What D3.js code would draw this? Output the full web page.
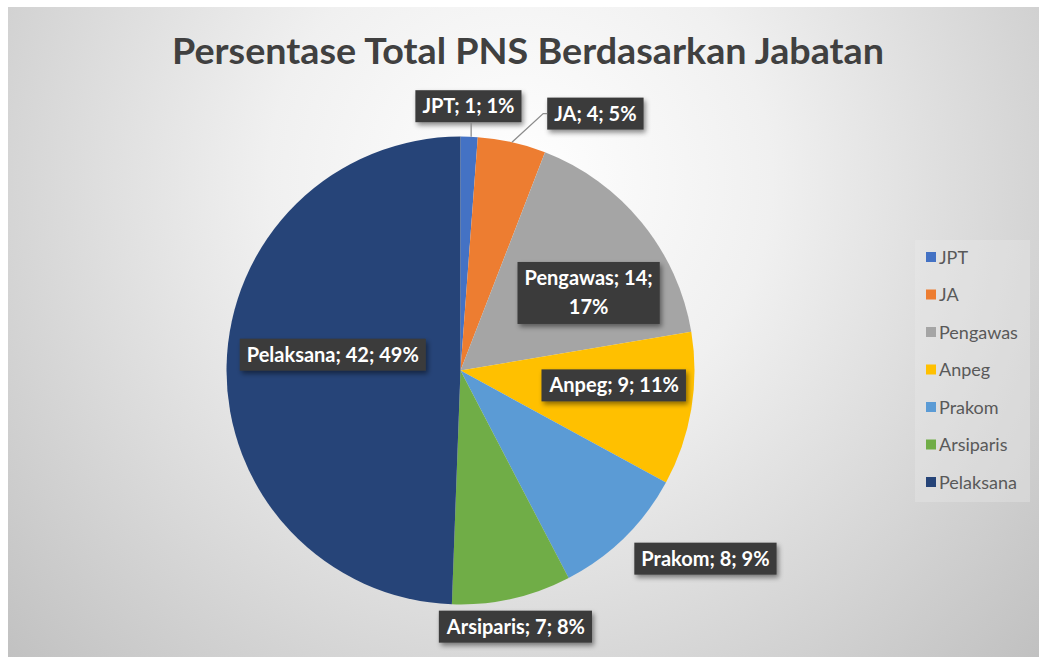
<!DOCTYPE html>
<html>
<head>
<meta charset="utf-8">
<script src="https://cdn.jsdelivr.net/npm/d3@7"></script>
<style>
  html, body { margin: 0; padding: 0; background: #fff; }
  svg { display: block; }
  text { font-family: Lato, "Open Sans", sans-serif; }
</style>
</head>
<body>
<div id="chart"></div>
<script>
"use strict";

// data
var categories = ["JPT", "JA", "Pengawas", "Anpeg", "Prakom", "Arsiparis", "Pelaksana"];
var counts     = [1, 4, 14, 9, 8, 7, 42];
var percents   = ["1%", "5%", "17%", "11%", "9%", "8%", "49%"];
var colors     = ["#4472C4", "#ED7D31", "#A5A5A5", "#FFC000", "#5B9BD5", "#70AD47", "#264478"];

// label placement: radius factor and angle nudge (deg) around the slice middle
var labelR     = [1.13, 1.24, 0.64, 0.66, 1.32, 1.12, 0.55];
var labelNudge = [-0.4, 15, 8, -4, -8, 0.5, 6];
var leader     = [true, true, false, false, false, false, false];

var W = 1039, H = 657,
    cx = 460.5, cy = 370.5, r = 234;

var svg = d3.select("#chart").append("svg")
    .attr("width", W)
    .attr("height", H);

var defs = svg.append("defs");
var bg = defs.append("radialGradient")
    .attr("id", "bg")
    .attr("gradientUnits", "userSpaceOnUse")
    .attr("cx", 520).attr("cy", 180).attr("r", 720);
bg.append("stop").attr("offset", "0").attr("stop-color", "#ffffff");
bg.append("stop").attr("offset", "0.35").attr("stop-color", "#f0f0f0");
bg.append("stop").attr("offset", "1").attr("stop-color", "#bfbfbf");

var sh = defs.append("filter").attr("id", "shadow")
    .attr("x", "-20%").attr("y", "-30%").attr("width", "140%").attr("height", "170%");
sh.append("feDropShadow")
    .attr("dx", 2).attr("dy", 3).attr("stdDeviation", 2.5)
    .attr("flood-color", "#000").attr("flood-opacity", 0.45);

svg.append("rect")
    .attr("x", 8).attr("y", 7)
    .attr("width", W - 8).attr("height", H - 7)
    .attr("fill", "url(#bg)");

svg.append("text")
    .attr("x", 528).attr("y", 64)
    .attr("text-anchor", "middle")
    .attr("font-size", 36)
    .attr("font-weight", 700)
    .attr("fill", "#404040")
    .attr("textLength", 712)
    .attr("lengthAdjust", "spacingAndGlyphs")
    .text("Persentase Total PNS Berdasarkan Jabatan");

var data = categories.map(function(c, i) {
  return { name: c, value: counts[i], pct: percents[i], color: colors[i], i: i };
});

var pie = d3.pie().sort(null).value(function(d) { return d.value; });
var arcs = pie(data);
var arc = d3.arc().innerRadius(0).outerRadius(r);

var g = svg.append("g").attr("transform", "translate(" + cx + "," + cy + ")");

g.selectAll("path.slice")
    .data(arcs)
  .enter().append("path")
    .attr("class", "slice")
    .attr("d", arc)
    .attr("fill", function(d) { return d.data.color; });

function polar(rad, ang) {
  return [rad * Math.sin(ang), -rad * Math.cos(ang)];
}

var labels = g.selectAll("g.lab")
    .data(arcs)
  .enter().append("g")
    .attr("class", "lab")
    .each(function(d) {
      var i = d.data.i;
      var mid = (d.startAngle + d.endAngle) / 2;
      var a = mid + labelNudge[i] * Math.PI / 180;
      var p = polar(r * labelR[i], a);
      d.lx = p[0]; d.ly = p[1]; d.mid = mid;
    });

// lines of each label (Pengawas wraps onto two lines like the original)
function linesOf(d) {
  var full = d.data.name + "; " + d.data.value + "; " + d.data.pct;
  if (d.data.name === "Pengawas") return [d.data.name + "; " + d.data.value + ";", d.data.pct];
  return [full];
}

labels.each(function(d) {
  var el = d3.select(this);
  var lines = linesOf(d);
  var lh = 29, fs = 20;
  var txt = el.append("text")
      .attr("text-anchor", "middle")
      .attr("font-size", fs)
      .attr("font-weight", 700)
      .attr("fill", "#ffffff");
  lines.forEach(function(l, k) {
    txt.append("tspan")
        .attr("x", d.lx)
        .attr("y", d.ly + (k - (lines.length - 1) / 2) * lh + fs * 0.35)
        .text(l);
  });
  var bb = txt.node().getBBox();
  var padX = 7;
  var box = { x: bb.x - padX, w: bb.width + 2 * padX };
  if (lines.length === 1) { box.y = d.ly - 16; box.h = 32; }
  else { box.y = d.ly - 31; box.h = 62; }
  el.insert("rect", "text")
      .attr("x", box.x).attr("y", box.y)
      .attr("width", box.w).attr("height", box.h)
      .attr("fill", "#3b3b3b")
      .attr("filter", "url(#shadow)");

  if (leader[d.data.i]) {
    var e = polar(r, d.mid);
    var pts;
    if (Math.abs(e[0] - d.lx) < 20) {
      pts = [[e[0] + 2, e[1]], [e[0] + 2, box.y + box.h]];
    } else {
      pts = [e, [box.x - 4, d.ly], [box.x, d.ly]];
    }
    g.append("path")
        .attr("d", d3.line()(pts))
        .attr("fill", "none")
        .attr("stroke", "#8c8c8c")
        .attr("stroke-width", 1.3);
  }
});

// legend
var lg = svg.append("g").attr("transform", "translate(915,240)");
lg.append("rect")
    .attr("width", 115).attr("height", 262)
    .attr("fill", "#ececec").attr("opacity", 0.35);
var item = lg.selectAll("g.item")
    .data(data)
  .enter().append("g")
    .attr("class", "item")
    .attr("transform", function(d, i) { return "translate(11," + (17 + i * 37.5) + ")"; });
item.append("rect")
    .attr("x", 0).attr("y", -5)
    .attr("width", 10).attr("height", 10)
    .attr("fill", function(d) { return d.color; });
item.append("text")
    .attr("x", 13).attr("y", 6.5)
    .attr("font-size", 18)
    .attr("fill", "#595959")
    .text(function(d) { return d.name; });
</script>
</body>
</html>
